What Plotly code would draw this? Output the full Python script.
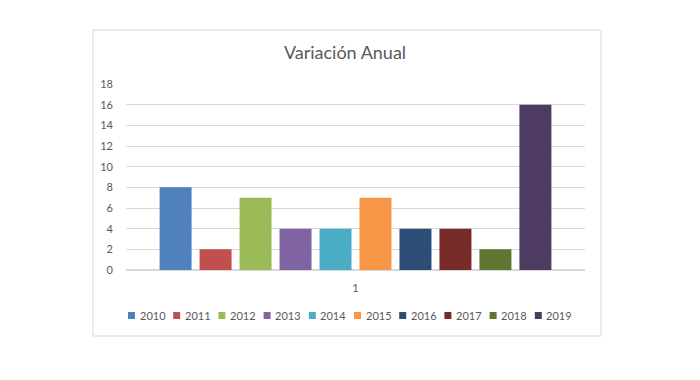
import plotly.graph_objects as go

categories = ["1"]
years = ["2010", "2011", "2012", "2013", "2014", "2015", "2016", "2017", "2018", "2019"]
values = [8, 2, 7, 4, 4, 7, 4, 4, 2, 16]
colors = ["#4F81BD", "#C0504D", "#9BBB59", "#8064A2", "#4BACC6",
          "#F79646", "#2C4D75", "#772C2A", "#5F7530", "#4D3B62"]
y_ticks = [0, 2, 4, 6, 8, 10, 12, 14, 16, 18]

OFF = 8  # default body margin of the html page
W, H = 700 - OFF, 380 - OFF
L, R, T, B = 126 - OFF, 585 - OFF, 84 - OFF, 270 - OFF
pw, ph = R - L, B - T


def px_x(x):
    return (x - OFF - L) / pw


def px_y(y):
    return (B - (y - OFF)) / ph


fig = go.Figure()
for yr, v, c in zip(years, values, colors):
    fig.add_trace(go.Bar(x=categories, y=[v], name=yr, marker=dict(color=c, line=dict(width=0)),
                         showlegend=False))

# chart border
fig.add_shape(type="rect", xref="paper", yref="paper",
              x0=px_x(93), x1=px_x(601), y0=px_y(336), y1=px_y(30),
              line=dict(color="#D9D9D9", width=1), fillcolor="rgba(0,0,0,0)", layer="below")

# legend (Excel style: small squares + labels)
leg_x0, leg_step = 128, 45.2
for i, (yr, c) in enumerate(zip(years, colors)):
    sx = leg_x0 + i * leg_step
    fig.add_shape(type="rect", xref="paper", yref="paper",
                  x0=px_x(sx), x1=px_x(sx + 7), y0=px_y(319), y1=px_y(312),
                  line=dict(width=0), fillcolor=c)
    fig.add_annotation(xref="paper", yref="paper", x=px_x(sx + 9.5), y=px_y(315.8),
                       xanchor="left", yanchor="middle", text=yr, showarrow=False,
                       font=dict(size=11, color="#595959"))

fig.update_layout(
    width=W, height=H,
    margin=dict(l=L, r=W - R, t=T, b=H - B, pad=0),
    paper_bgcolor="white", plot_bgcolor="white",
    font=dict(family="Lato, Open Sans, sans-serif", color="#595959", size=11),
    title=dict(text="Variación Anual", x=(345 - OFF) / W, xanchor="center",
               y=1 - (53 - OFF) / H, yanchor="middle",
               font=dict(size=18, color="#595959")),
    barmode="group", bargap=0.129, bargroupgap=0.2,
    showlegend=False,
    xaxis=dict(type="category", showgrid=False, showline=False, ticks="", ticklabelstandoff=10),
    yaxis=dict(range=[0, 18], tickvals=y_ticks, showgrid=True, gridcolor="#D9D9D9", gridwidth=1,
               zeroline=True, zerolinecolor="#D9D9D9", showline=False, ticks="",
               ticklabelstandoff=12),
)

fig.write_html("out.html")
